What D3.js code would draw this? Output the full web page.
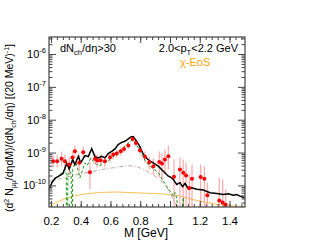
<!DOCTYPE html>
<html lang="en">
<head>
<meta charset="UTF-8">
<script src="https://d3js.org/d3.v7.min.js"></script>
<title>dimuon mass spectrum</title>
<style>
  body { margin: 0; background: #fff; }
  text { font-family: "Liberation Sans", Arial, sans-serif; }
</style>
</head>
<body>
<script>
// data points (red) and their error bars
var dataM  = [0.215,0.242,0.272,0.294,0.323,0.345,0.361,0.390,0.417,0.462,0.496,0.511,0.534,0.563,0.597,0.619,0.642,0.669,0.691,0.720,0.749,0.771,0.798,0.832,0.861,0.888,0.928,0.946,0.966,0.989,1.027,1.067,1.089,1.108,1.130,1.148,1.206,1.231,1.251,1.331,1.354,1.374];
var dataY  = [5.45e-10,5.45e-10,6.44e-10,5.45e-10,4.33e-10,7.05e-10,1.09e-9,4.88e-10,1.02e-9,2.53e-10,6.44e-10,5.72e-10,5.85e-10,5.45e-10,7.21e-10,8.7e-10,9.3e-10,1.09e-9,1.29e-9,1.63e-9,2.6e-9,1.97e-9,1.17e-9,7.4e-10,5.08e-10,3.85e-10,5.2e-10,4.64e-10,6.13e-10,7.73e-10,1.84e-10,3.05e-10,2.43e-10,2.01e-10,8.4e-11,1.6e-10,1.79e-10,1.6e-10,4.98e-11,3.5e-11,3.0e-11,2.57e-11];
var dataHi = [8.1e-10,8.1e-10,1.07e-9,8.7e-10,7.1e-10,1.07e-9,1.63e-9,8.7e-10,1.52e-9,5.3e-10,9.3e-10,8.7e-10,8.7e-10,8.1e-10,1.0e-9,1.15e-9,1.23e-9,1.42e-9,1.63e-9,2.01e-9,3.05e-9,2.48e-9,1.52e-9,1.07e-9,7.6e-10,6.6e-10,1.07e-9,9.3e-10,1.23e-9,1.63e-9,6.1e-10,7.1e-10,6.1e-10,5.0e-10,2.15e-10,4.3e-10,4.3e-10,3.8e-10,1.23e-10,1.75e-10,1.52e-10,7.6e-11];
var dataLo = [3.5e-10,3.5e-10,3.8e-10,3.05e-10,2.15e-10,4.3e-10,7.1e-10,2.65e-10,6.6e-10,7.6e-11,4.3e-10,3.5e-10,3.8e-10,3.5e-10,5.0e-10,6.1e-10,7.1e-10,8.1e-10,1.0e-9,1.32e-9,2.16e-9,1.52e-9,8.7e-10,5.0e-10,3.05e-10,2.15e-10,1.75e-10,1.32e-10,2.15e-10,3.05e-10,1e-12,1e-12,1e-12,1e-12,1e-12,1e-12,1e-12,1e-12,1e-12,1e-12,1e-12,1e-12];

// black solid curve
var totalM = [0.187,0.207,0.227,0.261,0.281,0.306,0.323,0.346,0.361,0.384,0.400,0.429,0.451,0.474,0.496,0.518,0.541,0.563,0.585,0.608,0.630,0.652,0.675,0.697,0.720,0.738,0.753,0.776,0.794,0.816,0.839,0.866,0.888,0.921,0.955,0.989,1.007,1.022,1.045,1.067,1.085,1.101,1.123,1.146,1.180,1.224,1.269,1.314,1.358,1.392,1.426,1.448,1.471,1.5];
var totalY = [7.6e-11,1.23e-10,1.63e-10,2.01e-10,2.31e-10,4.64e-10,3.16e-10,6.13e-10,4.33e-10,7.73e-10,4.88e-10,8.11e-10,7.57e-10,1.32e-9,7.41e-10,6.9e-10,7.73e-10,6.9e-10,9.3e-10,1.09e-9,1.29e-9,1.75e-9,2.05e-9,2.2e-9,2.6e-9,2.99e-9,3.06e-9,2.2e-9,1.63e-9,9.8e-10,6.9e-10,5.45e-10,4.88e-10,3.85e-10,2.71e-10,1.91e-10,1.75e-10,1.52e-10,1.07e-10,1.21e-10,9.1e-11,1.15e-10,7.9e-11,8.5e-11,7.6e-11,7.2e-11,6.0e-11,5.7e-11,5.3e-11,5.6e-11,5.0e-11,5.3e-11,4.7e-11,4.2e-11];

// green dashed curve
var greenM = [0.261,0.281,0.294,0.303,0.306,0.311,0.314,0.328,0.336,0.339,0.343,0.346,0.358,0.368,0.384,0.395,0.406,0.429,0.444,0.467,0.484,0.507,0.529,0.552,0.574,0.597,0.619,0.642,0.664,0.686,0.709,0.731,0.749,0.765,0.787,0.810,0.832,0.854,0.888,0.921,0.955,0.978,1.0,1.022,1.034,1.047,1.06,1.084,1.089,1.097];
var greenY = [2.15e-10,2.65e-10,3.05e-10,2.15e-10,1e-12,1e-12,2.15e-10,2.71e-10,2.15e-10,1e-12,1e-12,3.05e-10,4.33e-10,4.88e-10,2.71e-10,1.71e-10,2.43e-10,4.88e-10,4.03e-10,6.9e-10,5.45e-10,4.33e-10,4.03e-10,4.88e-10,5.45e-10,6.13e-10,7.73e-10,8.7e-10,1.09e-9,1.39e-9,1.75e-9,2.2e-9,2.48e-9,2.05e-9,1.39e-9,8.7e-10,5.85e-10,4.33e-10,3.21e-10,2.43e-10,1.35e-10,9.5e-11,6.7e-11,4.7e-11,6.1e-11,3.77e-11,1e-12,1e-12,4.3e-11,1e-12];

// brown dash-dot curve
var brownM = [0.187,0.227,0.294,0.361,0.429,0.496,0.563,0.630,0.697,0.738,0.778,0.819,0.866,0.913,0.953,0.987,1.013,1.040,1.054];
var brownY = [1.32e-10,1.47e-10,1.75e-10,2.08e-10,2.39e-10,2.75e-10,3.16e-10,3.51e-10,3.9e-10,3.95e-10,3.69e-10,3.16e-10,2.39e-10,1.75e-10,1.15e-10,7.6e-11,4.6e-11,2.65e-11,1.9e-11];

// chi-EoS (orange)
var eosM = [0.193,0.227,0.261,0.308,0.361,0.429,0.529,0.644,0.751,0.866,0.953,1.047,1.134,1.222,1.316,1.424,1.5];
var eosY = [2.15e-11,2.85e-11,3.39e-11,4.18e-11,4.8e-11,5.5e-11,6.1e-11,6.3e-11,6.0e-11,5.7e-11,5.5e-11,5.0e-11,3.9e-11,3.16e-11,2.65e-11,2.36e-11,2.23e-11];

var xTicks = [0.2,0.4,0.6,0.8,1,1.2,1.4];
var yTicks = [1e-10,1e-9,1e-8,1e-7,1e-6];
var yExp = ['-10','-9','-8','-7','-6'];

var W = 317, H = 245;
var pL = 49, pR = 245, pT = 37, pB = 207;

var x = d3.scaleLinear().domain([0.187, 1.504]).range([pL, pR]);
var y = d3.scaleLog().domain([2.2e-11, 3.3e-6]).range([pB, pT]);

var svg = d3.select('body').append('svg')
    .attr('width', W).attr('height', H);

svg.append('rect').attr('width', W).attr('height', H).attr('fill', '#fff');

svg.append('clipPath').attr('id', 'clip')
    .append('rect').attr('x', pL).attr('y', pT)
    .attr('width', pR - pL).attr('height', pB - pT);

var plot = svg.append('g').attr('clip-path', 'url(#clip)');

function pairs(a, b) { return a.map(function(d, i) { return [d, b[i]]; }); }
var line = d3.line().x(function(d) { return x(d[0]); }).y(function(d) { return y(d[1]); });

plot.append('path').datum(pairs(eosM, eosY))
    .attr('d', line).attr('fill', 'none').attr('stroke', '#ffbf55').attr('stroke-width', 1);

plot.append('path').datum(pairs(brownM, brownY))
    .attr('d', line).attr('fill', 'none').attr('stroke', '#c9a3a0')
    .attr('stroke-width', 1).attr('stroke-dasharray', '4,2,1,2');

// error bars
plot.selectAll('line.err').data(dataM).enter().append('line')
    .attr('class', 'err')
    .attr('x1', function(d) { return x(d); }).attr('x2', function(d) { return x(d); })
    .attr('y1', function(d, i) { return y(dataHi[i]); })
    .attr('y2', function(d, i) { return Math.min(pB + 5, y(dataLo[i])); })
    .attr('stroke', '#ff8c8c').attr('stroke-opacity', 0.7).attr('stroke-width', 1.3);

plot.append('path').datum(pairs(greenM, greenY))
    .attr('d', line).attr('fill', 'none').attr('stroke', '#1f9a1f')
    .attr('stroke-width', 1).attr('stroke-dasharray', '3,2');

plot.append('path').datum(pairs(totalM, totalY))
    .attr('d', line).attr('fill', 'none').attr('stroke', '#000').attr('stroke-width', 1.5);

plot.selectAll('circle.pt').data(dataM).enter().append('circle')
    .attr('class', 'pt')
    .attr('cx', function(d) { return x(d); })
    .attr('cy', function(d, i) { return y(dataY[i]); })
    .attr('r', 2).attr('fill', '#f00');

// frame + ticks (inward, on all four sides)
var axisColor = '#444';
svg.append('rect').attr('x', pL).attr('y', pT)
    .attr('width', pR - pL).attr('height', pB - pT)
    .attr('fill', 'none').attr('stroke', axisColor).attr('stroke-width', 1.2);

var xMinor = d3.range(0.2, 1.5, 0.04).map(function(d) { return +d.toFixed(2); });
var yMinor = [];
[-11, -10, -9, -8, -7, -6].forEach(function(e) {
    for (var k = 2; k <= 9; k++) yMinor.push(k * Math.pow(10, e));
});
yMinor = yMinor.filter(function(v) { return v > 2.2e-11 && v < 3.3e-6; });

function styleAxis(g) {
    g.select('.domain').remove();
    g.selectAll('line').attr('stroke', axisColor);
}

svg.append('g').attr('transform', 'translate(0,' + pB + ')')
    .call(d3.axisBottom(x).tickValues(xTicks).tickSize(-6).tickPadding(10)
        .tickFormat(function(d) { return String(d); }))
    .call(styleAxis)
    .selectAll('text').attr('font-size', 11.5).attr('fill', '#000')
    .attr('font-family', '"Liberation Sans", Arial, sans-serif');
svg.append('g').attr('transform', 'translate(0,' + pB + ')')
    .call(d3.axisBottom(x).tickValues(xMinor).tickSize(-3).tickFormat(''))
    .call(styleAxis);
svg.append('g').attr('transform', 'translate(0,' + pT + ')')
    .call(d3.axisTop(x).tickValues(xTicks).tickSize(-6).tickFormat(''))
    .call(styleAxis);
svg.append('g').attr('transform', 'translate(0,' + pT + ')')
    .call(d3.axisTop(x).tickValues(xMinor).tickSize(-3).tickFormat(''))
    .call(styleAxis);

svg.append('g').attr('transform', 'translate(' + pL + ',0)')
    .call(d3.axisLeft(y).tickValues(yTicks).tickSize(-7).tickFormat(''))
    .call(styleAxis);
svg.append('g').attr('transform', 'translate(' + pL + ',0)')
    .call(d3.axisLeft(y).tickValues(yMinor).tickSize(-3.5).tickFormat(''))
    .call(styleAxis);
svg.append('g').attr('transform', 'translate(' + pR + ',0)')
    .call(d3.axisRight(y).tickValues(yTicks).tickSize(-7).tickFormat(''))
    .call(styleAxis);
svg.append('g').attr('transform', 'translate(' + pR + ',0)')
    .call(d3.axisRight(y).tickValues(yMinor).tickSize(-3.5).tickFormat(''))
    .call(styleAxis);

// y tick labels 10^n
yTicks.forEach(function(v, i) {
    var t = svg.append('text').attr('x', 46).attr('y', y(v) + 4)
        .attr('text-anchor', 'end').attr('font-size', 11);
    t.append('tspan').text('10');
    t.append('tspan').attr('dy', -5).attr('font-size', 7.5).text(yExp[i]);
});

// axis titles
svg.append('text').attr('x', 146).attr('y', 237)
    .attr('text-anchor', 'middle').attr('font-size', 12).text('M [GeV]');

var yl = svg.append('text')
    .attr('transform', 'translate(13,' + ((pT + pB) / 2 + 6) + ') rotate(-90)')
    .attr('text-anchor', 'middle').attr('font-size', 10.5);
yl.append('tspan').text('(d');
yl.append('tspan').attr('dy', -4).attr('font-size', 7).text('2');
yl.append('tspan').attr('dy', 4).text(' N');
yl.append('tspan').attr('dy', 3).attr('font-size', 7).text('μμ');
yl.append('tspan').attr('dy', -3).text('/dηdM)/(dN');
yl.append('tspan').attr('dy', 3).attr('font-size', 7).text('ch');
yl.append('tspan').attr('dy', -3).text('/dη) [(20 MeV)');
yl.append('tspan').attr('dy', -4).attr('font-size', 7).text('-1');
yl.append('tspan').attr('dy', 4).text(']');

// annotations
var t1 = svg.append('text').attr('x', 60).attr('y', 52).attr('font-size', 11);
t1.append('tspan').text('dN');
t1.append('tspan').attr('dy', 3).attr('font-size', 7.5).text('ch');
t1.append('tspan').attr('dy', -3).text('/dη>30');

var t2 = svg.append('text').attr('x', 238).attr('y', 52)
    .attr('text-anchor', 'end').attr('font-size', 11);
t2.append('tspan').text('2.0<p');
t2.append('tspan').attr('dy', 3).attr('font-size', 7.5).text('T');
t2.append('tspan').attr('dy', -3).text('<2.2 GeV');

svg.append('text').attr('x', 180).attr('y', 66).attr('font-size', 11)
    .attr('fill', '#ffa500').text('χ-EoS');
</script>
</body>
</html>
